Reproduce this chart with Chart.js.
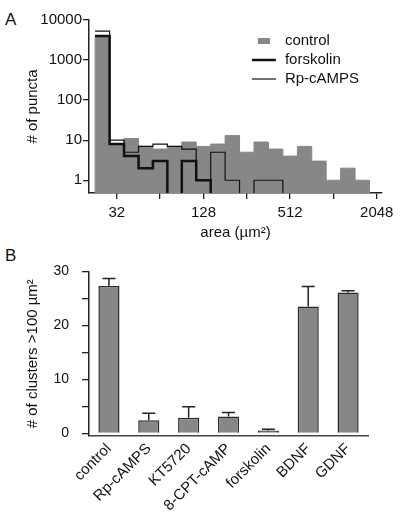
<!DOCTYPE html>
<html>
<head>
<meta charset="utf-8">
<script src="https://cdn.jsdelivr.net/npm/chart.js@4"></script>
<style>
  body { margin: 0; background: #fff; width: 400px; height: 526px; position: relative; overflow: hidden;
         font-family: "Liberation Sans", Arial, sans-serif; color: #111; }
  canvas { position: absolute; left: 0; }
  #histChart { top: 0; }
  #barChart { top: 250px; }
  .panel { position: absolute; left: 5px; font-size: 17px; line-height: 17px; }
</style>
</head>
<body>
<div class="panel" style="top: 11px;">A</div>
<div class="panel" style="top: 247px;">B</div>
<canvas id="histChart" width="400" height="250"></canvas>
<canvas id="barChart" width="400" height="276"></canvas>
<script>
// panel A: histogram of puncta area, 1/3-octave bins
var binEdges = [22.6, 28.5, 35.9, 45.3, 57.0, 71.8, 90.5, 114, 143.7, 181, 228, 287.4, 362, 456, 575, 724, 912, 1149, 1448, 1825];
var controlCounts = [3900, 8, 11, 7, 6, 7, 9, 7, 8, 13, 5, 9, 6, 4, 7, 3, 1, 2, 1];
var forskolinCounts = [4000, 8, 4, 2, 3, 0, 3, 1, 0, 0, 0, 0, 0, 0, 0, 0, 0, 0, 0];
var rpCampsCounts = [5300, 10, 5, 7, 8, 7, 6, 1, 5, 1, 0, 1, 1, 0, 0, 0, 0, 0, 0];
var areaTicks = [32, 64, 128, 256, 512, 1024, 2048];
var areaLabelled = [32, 128, 512, 2048];
var countTicks = [1, 10, 100, 1000, 10000];

// panel B: clusters larger than 100 um2
var conditions = ['control', 'Rp-cAMPS', 'KT5720', '8-CPT-cAMP', 'forskolin', 'BDNF', 'GDNF'];
var clusterMeans = [27.3, 2.4, 2.9, 3.1, 0.5, 23.5, 26.1];
var clusterErrors = [1.4, 1.3, 2.0, 0.75, 0.25, 3.7, 0.3];
var clusterTicks = [0, 5, 10, 15, 20, 25, 30];

var FONT = { family: '"Liberation Sans", Arial, sans-serif', size: 15 };
var INK = '#111';
var GRAY = '#878787';
var FLOOR = 0.3; // below the axis, so empty bins drop out of sight

// turn bin counts into a step outline; filled ones start from the floor
function stepPoints(counts, fromFloor) {
    var pts = fromFloor ? [{ x: binEdges[0], y: FLOOR }] : [];
    for (var i = 0; i < counts.length; i++) {
        pts.push({ x: binEdges[i], y: counts[i] > 0 ? counts[i] : FLOOR });
    }
    pts.push({ x: binEdges[counts.length], y: FLOOR });
    return pts;
}

// legend drawn inside the plot area of panel A
var histLegend = {
    id: 'histLegend',
    afterDraw: function (chart) {
        var ctx = chart.ctx;
        var area = chart.chartArea;
        var sx = area.left + (area.right - area.left) * 0.597;
        var y = area.top + 21;
        ctx.save();
        ctx.font = '15px ' + FONT.family;
        ctx.textBaseline = 'middle';
        ['control', 'forskolin', 'Rp-cAMPS'].forEach(function (name) {
            var ds = chart.data.datasets.find(function (d) { return d.label === name; });
            if (ds.fill) {
                ctx.fillStyle = ds.backgroundColor;
                ctx.fillRect(sx - 6, y - 3, 12, 6);
            } else {
                ctx.strokeStyle = ds.borderColor;
                ctx.lineWidth = ds.borderWidth;
                ctx.beginPath();
                ctx.moveTo(sx - 12, y);
                ctx.lineTo(sx + 12, y);
                ctx.stroke();
            }
            ctx.fillStyle = INK;
            ctx.fillText(name, sx + 21, y);
            y += 19;
        });
        ctx.restore();
    }
};

// one-sided error bars on top of each bar
var errorBars = {
    id: 'errorBars',
    afterDatasetsDraw: function (chart) {
        var ctx = chart.ctx;
        var yScale = chart.scales.y;
        var meta = chart.getDatasetMeta(0);
        ctx.save();
        ctx.strokeStyle = '#222';
        ctx.lineWidth = 1.5;
        meta.data.forEach(function (bar, i) {
            var top = yScale.getPixelForValue(clusterMeans[i] + clusterErrors[i]);
            ctx.beginPath();
            ctx.moveTo(bar.x, bar.y);
            ctx.lineTo(bar.x, top);
            ctx.moveTo(bar.x - 6.5, top);
            ctx.lineTo(bar.x + 6.5, top);
            ctx.stroke();
        });
        ctx.restore();
    }
};

new Chart(document.getElementById('histChart'), {
    type: 'line',
    data: {
        datasets: [
            { label: 'forskolin', data: stepPoints(forskolinCounts, false), borderColor: INK, borderWidth: 2.5, fill: false, order: 0 },
            { label: 'Rp-cAMPS', data: stepPoints(rpCampsCounts, false), borderColor: INK, borderWidth: 1.2, fill: false, order: 1 },
            { label: 'control', data: stepPoints(controlCounts, true), borderColor: GRAY, borderWidth: 1, backgroundColor: GRAY, fill: 'start', order: 2 }
        ]
    },
    options: {
        responsive: false,
        animation: false,
        layout: { padding: { top: 20, right: 18, left: 0, bottom: 0 } },
        elements: { line: { stepped: true, tension: 0 }, point: { radius: 0 } },
        plugins: { legend: { display: false }, tooltip: { enabled: false } },
        scales: {
            x: {
                type: 'logarithmic',
                min: 20.5,
                max: 2228,
                afterBuildTicks: function (scale) {
                    scale.ticks = areaTicks.map(function (v) { return { value: v }; });
                },
                afterFit: function (scale) { scale.height = 57; },
                ticks: {
                    autoSkip: false, maxRotation: 0, color: INK, font: FONT, padding: 5,
                    callback: function (v) { return areaLabelled.indexOf(v) >= 0 ? String(v) : ''; }
                },
                grid: { drawOnChartArea: false, tickLength: 6, color: '#222', lineWidth: 1.3 },
                border: { color: '#222', width: 1.5 },
                title: { display: true, text: 'area (µm²)', color: INK, font: FONT, padding: { top: 2, bottom: 8 } }
            },
            y: {
                type: 'logarithmic',
                min: 0.48,
                max: 10000,
                afterBuildTicks: function (scale) {
                    scale.ticks = countTicks.map(function (v) { return { value: v }; });
                },
                afterFit: function (scale) { scale.width = 89; },
                ticks: { color: INK, font: FONT, padding: 1, callback: function (v) { return String(v); } },
                grid: { drawOnChartArea: false, tickLength: 6, color: '#222', lineWidth: 1.3 },
                border: { color: '#222', width: 1.5 },
                title: { display: true, text: '# of puncta', color: INK, font: FONT, padding: { top: 24, bottom: 0 } }
            }
        }
    },
    plugins: [histLegend]
});

new Chart(document.getElementById('barChart'), {
    type: 'bar',
    data: {
        labels: conditions,
        datasets: [{
            data: clusterMeans,
            backgroundColor: GRAY,
            borderColor: '#2a2a2a',
            borderWidth: 1.5,
            categoryPercentage: 1,
            barPercentage: 0.53
        }]
    },
    options: {
        responsive: false,
        animation: false,
        layout: { padding: { top: 10, right: 32, left: 0, bottom: 0 } },
        plugins: { legend: { display: false }, tooltip: { enabled: false } },
        scales: {
            x: {
                afterFit: function (scale) { scale.height = 90; },
                ticks: { color: INK, font: { family: FONT.family, size: 15 }, minRotation: 45, maxRotation: 45, padding: 4, autoSkip: false },
                grid: { drawOnChartArea: false, drawTicks: false },
                border: { color: '#444', width: 1.5 }
            },
            y: {
                min: -0.5,
                max: 30,
                afterBuildTicks: function (scale) {
                    scale.ticks = clusterTicks.map(function (v) { return { value: v }; });
                },
                afterFit: function (scale) { scale.width = 89; },
                ticks: {
                    color: INK, font: { family: FONT.family, size: 14 }, padding: 13,
                    callback: function (v) { return v % 10 === 0 ? String(v) : ''; }
                },
                grid: { drawOnChartArea: false, tickLength: 7, color: '#222', lineWidth: 1.3 },
                border: { color: '#222', width: 1.5 },
                title: { display: true, text: '# of clusters >100 µm²', color: INK, font: { family: FONT.family, size: 15 }, padding: { top: 24, bottom: 0 } }
            }
        }
    },
    plugins: [errorBars]
});
</script>
</body>
</html>
